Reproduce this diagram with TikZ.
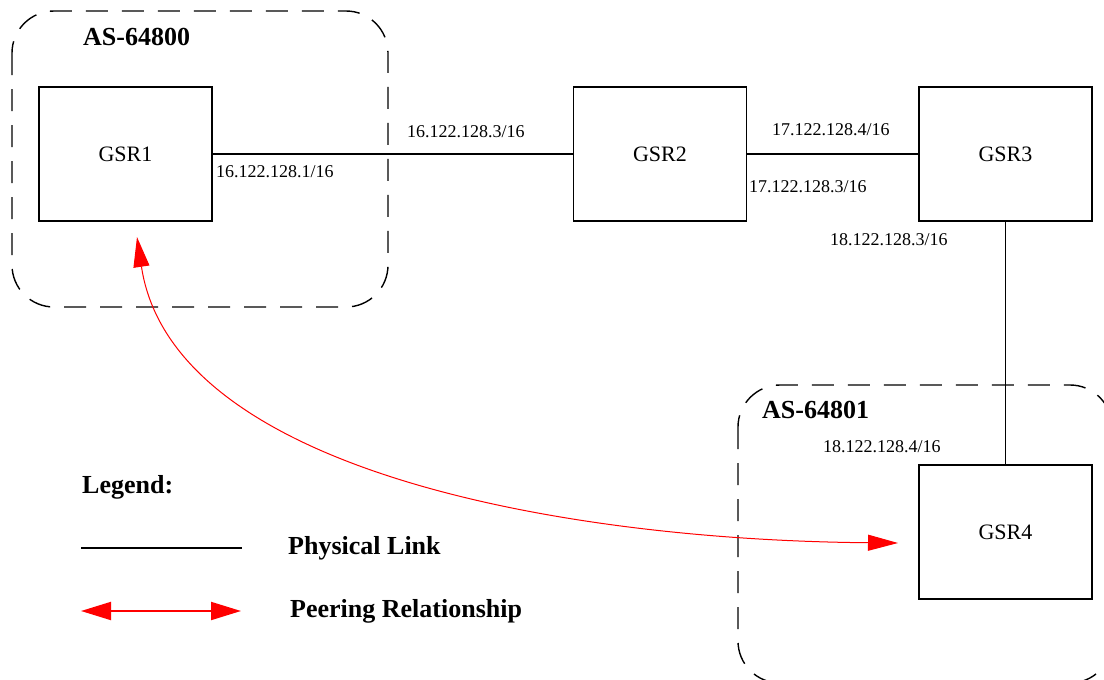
\documentclass[tikz,border=0pt]{standalone}
\usepackage{fontspec}
\setmainfont{Liberation Serif}
\usetikzlibrary{arrows.meta}
\begin{document}
\begin{tikzpicture}[x=1pt,y=-1pt,
  box/.style={draw,line width=1.5pt,minimum width=173pt,minimum height=134pt,inner sep=0pt,font=\fontsize{22}{24}\selectfont},
  ip/.style={anchor=west,inner sep=0pt,font=\fontsize{18}{20}\selectfont},
  boldlbl/.style={anchor=west,inner sep=0pt,font=\bfseries\fontsize{26}{28}\selectfont},
  asreg/.style={draw,dash pattern=on 22pt off 14pt,line width=1.4pt,rounded corners=42pt},
  link/.style={line width=1.5pt},
  tri/.tip={Triangle[length=30pt,width=16pt]},
  peer/.style={red,line width=1pt,tri-tri},
  legpeer/.style={red,line width=2pt,{Triangle[length=30pt,width=18pt]}-{Triangle[length=30pt,width=18pt]}},
]
\useasboundingbox (0,0) rectangle (1104,680);
\clip (0,0) rectangle (1104,680);
\fill[white] (0,0) rectangle (1104,680);

% AS regions
\draw[asreg] (12,11) rectangle (388,307);
\draw[asreg] (738,385) rectangle (1112,683);
\node[boldlbl] (as1) at (83,37) {AS-64800};
\node[boldlbl] (as2) at (762,410) {AS-64801};

% routers
\node[box] (g1) at (125.5,154) {GSR1};
\node[box] (g2) at (660,154) {GSR2};
\node[box] (g3) at (1005.5,154) {GSR3};
\node[box] (g4) at (1005.5,532) {GSR4};

% physical links
\draw[link] (g1) -- (g2);
\draw[link] (g2) -- (g3);
\draw[link] (g3.south) -- (g4.north);

% IP labels
\node[ip] (l1) at (216,172) {16.122.128.1/16};
\node[ip] (l2) at (407,132) {16.122.128.3/16};
\node[ip] (l3) at (772,130) {17.122.128.4/16};
\node[ip] (l4) at (749,187) {17.122.128.3/16};
\node[ip] (l5) at (830,240) {18.122.128.3/16};
\node[ip] (l6) at (823,447) {18.122.128.4/16};

% peering relationship
\coordinate (pa) at (137,237);
\coordinate (pb) at (898,543);
\draw[peer] (pa) .. controls (172,470) and (560,540) .. (pb);

% legend
\node[boldlbl] (leg) at (82,487) {Legend:};
\coordinate (la1) at (81,548);
\coordinate (la2) at (242,548);
\draw[link] (la1) -- (la2);
\node[boldlbl] (lt1) at (288,548) {Physical Link};
\coordinate (lb1) at (81,611);
\coordinate (lb2) at (241,611);
\draw[legpeer] (lb1) -- (lb2);
\node[boldlbl] (lt2) at (290,611) {Peering Relationship};
\end{tikzpicture}
\end{document}
